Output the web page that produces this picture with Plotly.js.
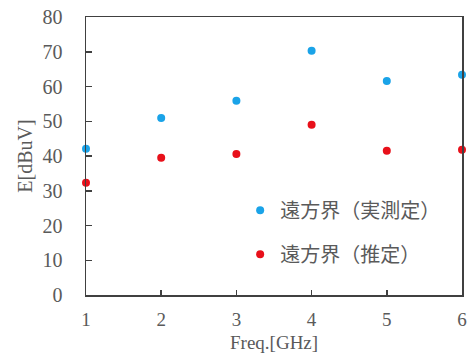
<!DOCTYPE html>
<html><head><meta charset="utf-8">
<script src="https://cdn.plot.ly/plotly-3.0.1.min.js"></script>
<style>html,body{margin:0;padding:0;background:#fff}</style>
</head><body>
<div id="chart" style="width:467px;height:354px"></div>
<script>
const freq = [1, 2, 3, 4, 5, 6];
const measured = [42.1, 50.9, 55.9, 70.3, 61.6, 63.4];
const estimated = [32.3, 39.5, 40.6, 49.0, 41.5, 41.8];
const seriesNames = ['遠方界（実測定）', '遠方界（推定）'];
const xTitle = 'Freq.[GHz]';
const yTitle = 'E[dBuV]';

const serif = '"Liberation Serif", "Times New Roman", serif';
const gray = '#5a5a5a';
const traces = [
  {x: freq, y: measured, name: seriesNames[0], type: 'scatter', mode: 'markers',
   marker: {color: '#1aa3e8', size: 8}, cliponaxis: false, legendgroup: 'a'},
  {x: freq, y: estimated, name: seriesNames[1], type: 'scatter', mode: 'markers',
   marker: {color: '#e8101a', size: 8}, cliponaxis: false, legendgroup: 'b'}
];
const layout = {
  width: 467, height: 354,
  margin: {l: 86, r: 5, t: 17, b: 59},
  paper_bgcolor: '#fff', plot_bgcolor: '#fff',
  showlegend: true,
  legend: {x: 0.41, y: 0.375, xanchor: 'left', yanchor: 'top', traceorder: 'grouped',
    tracegroupgap: 15, bgcolor: 'rgba(0,0,0,0)',
    font: {family: '"Noto Sans CJK JP", sans-serif', size: 20, color: gray}},
  xaxis: {range: [1, 6], tickvals: freq, ticks: 'inside', ticklen: 5, tickwidth: 1.5,
    tickcolor: '#404040', showline: true, mirror: true, linecolor: '#404040', linewidth: 1.5,
    showgrid: false, zeroline: false, ticklabelstandoff: 7,
    tickfont: {family: serif, size: 19, color: gray}},
  yaxis: {range: [0, 80], dtick: 10, ticks: 'inside', ticklen: 6, tickwidth: 1.5,
    tickcolor: '#404040', showline: true, mirror: true, linecolor: '#404040', linewidth: 1.5,
    showgrid: false, zeroline: false, ticklabelstandoff: 18,
    tickfont: {family: serif, size: 20, color: gray},
    title: {text: yTitle, standoff: 4, font: {family: serif, size: 20, color: gray}}},
  annotations: [
    {text: xTitle, xref: 'paper', yref: 'paper', x: 0.5, y: -0.17, xanchor: 'center', yanchor: 'middle',
     showarrow: false, font: {family: serif, size: 19, color: gray}}
  ]
};
Plotly.newPlot('chart', traces, layout, {staticPlot: true});
</script>
</body></html>
